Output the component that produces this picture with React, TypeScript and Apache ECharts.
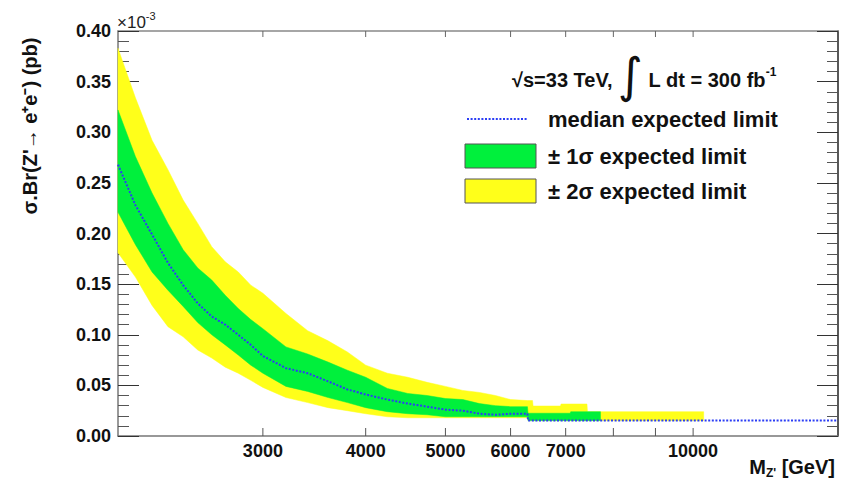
import React, { useEffect, useRef } from "react";
import * as echarts from "echarts";

// Mass points (GeV) and expected limits (x 1e-3 pb)
const massPoints = [2000, 2100, 2200, 2300, 2400, 2500, 2600, 2700, 2800, 2900, 3000, 3200, 3400, 3600, 3800, 4000, 4250, 4500, 4750, 5000, 5250, 5500, 5750, 6000, 6290];
const yellowHigh = [0.383, 0.334, 0.292, 0.263, 0.233, 0.21, 0.187, 0.172, 0.162, 0.149, 0.141, 0.121, 0.104, 0.094, 0.083, 0.07, 0.062, 0.058, 0.053, 0.049, 0.045, 0.043, 0.04, 0.036, 0.035];
const greenHigh = [0.322, 0.276, 0.24, 0.21, 0.184, 0.166, 0.154, 0.139, 0.126, 0.115, 0.106, 0.088, 0.081, 0.073, 0.065, 0.058, 0.047, 0.042, 0.04, 0.037, 0.036, 0.032, 0.03, 0.029, 0.029];
const medianLimit = [0.268, 0.228, 0.199, 0.171, 0.149, 0.131, 0.118, 0.11, 0.1, 0.09, 0.079, 0.067, 0.062, 0.054, 0.046, 0.041, 0.036, 0.032, 0.029, 0.026, 0.025, 0.022, 0.021, 0.022, 0.022];
const greenLow = [0.221, 0.189, 0.162, 0.144, 0.128, 0.112, 0.1, 0.09, 0.08, 0.07, 0.062, 0.049, 0.044, 0.038, 0.033, 0.028, 0.024, 0.022, 0.021, 0.019, 0.019, 0.019, 0.019, 0.019, 0.019];
const yellowLow = [0.181, 0.157, 0.129, 0.108, 0.098, 0.085, 0.077, 0.068, 0.062, 0.055, 0.048, 0.038, 0.033, 0.028, 0.025, 0.022, 0.019, 0.018, 0.018, 0.018, 0.018, 0.018, 0.018, 0.018, 0.018];

// High-mass tails
const medianTailMass = [6300, 15000];
const medianTail = [0.0152, 0.0152];
const greenTailMass = [6300, 7090, 7100, 7716];
const greenTailHigh = [0.0225, 0.0225, 0.024, 0.024];
const greenTailLow = [0.0152, 0.0152, 0.0152, 0.0152];
const yellowTailMass = [6300, 6380, 6390, 6900, 6910, 7430, 7440, 10300];
const yellowTailHigh = [0.035, 0.035, 0.0296, 0.0296, 0.0316, 0.0316, 0.024, 0.024];
const yellowTailLow = [0.0152, 0.0152, 0.0152, 0.0152, 0.0152, 0.0152, 0.0152, 0.0152];

// Axis ticks
const xLabelValues = [3000, 4000, 5000, 6000, 7000, 10000];
const xTickValues = [3000, 4000, 5000, 6000, 7000, 8000, 9000, 10000];

const FONT = '"Liberation Sans", Arial, Helvetica, sans-serif';
const GREEN = "#00f03c";
const YELLOW = "#ffff1a";
const BLUE = "#2b3df5";

const pairs = (xs: number[], ys: number[]) => xs.map((x, i) => [x, ys[i]]);
const bandRows = (xs: number[], lo: number[], hi: number[]) => xs.map((x, i) => [x, lo[i], hi[i]]);

function bandSeries(rows: number[][], color: string, z: number) {
  return {
    type: "custom",
    silent: true,
    z,
    data: rows,
    encode: { x: 0, y: [1, 2] },
    renderItem: (params: any, api: any) => {
      if (params.dataIndex !== 0) return null;
      const upper = rows.map((r) => api.coord([r[0], r[2]]));
      const lower = rows.map((r) => api.coord([r[0], r[1]])).reverse();
      return {
        type: "polygon",
        shape: { points: [...upper, ...lower] },
        style: { fill: color, stroke: color, lineWidth: 0.5 },
      };
    },
  };
}

export default function App() {
  const ref = useRef<HTMLDivElement>(null);

  useEffect(() => {
    if (!ref.current) return;
    const chart = echarts.init(ref.current, null, { renderer: "svg" });

    const yellowRows = bandRows([...massPoints, ...yellowTailMass], [...yellowLow, ...yellowTailLow], [...yellowHigh, ...yellowTailHigh]);
    const greenRows = bandRows([...massPoints, ...greenTailMass], [...greenLow, ...greenTailLow], [...greenHigh, ...greenTailHigh]);
    const mX = [...massPoints, ...medianTailMass];
    const mY = [...medianLimit, ...medianTail];

    const baseX = {
      type: "log" as const,
      logBase: 10,
      min: 2000,
      max: 15000,
      splitLine: { show: false },
      minorTick: { show: false },
      axisTick: { show: false },
    };
    const baseY = {
      type: "value" as const,
      min: 0,
      max: 0.4,
      interval: 0.05,
      splitLine: { show: false },
      minorSplitLine: { show: false },
    };

    const textStyleBold = { fontFamily: FONT, fontWeight: "bold" as const, fill: "#111" };

    chart.setOption({
      animation: false,
      grid: { left: 118, top: 31, width: 720, height: 405, containLabel: false },
      xAxis: [
        {
          ...baseX,
          position: "bottom",
          axisLine: { show: true, onZero: false, lineStyle: { color: "#777", width: 1.5 } },
          axisLabel: {
            show: true,
            customValues: xLabelValues,
            formatter: (v: number) => String(Math.round(v)),
            fontFamily: FONT,
            fontWeight: "bold",
            fontSize: 18,
            color: "#111",
            margin: 6,
          },
        },
        {
          ...baseX,
          position: "top",
          axisLine: { show: true, onZero: false, lineStyle: { color: "#888", width: 1.5 } },
          axisLabel: { show: false },
        },
      ],
      yAxis: [
        {
          ...baseY,
          position: "left",
          axisLine: { show: true, onZero: false, lineStyle: { color: "#777", width: 1.5 } },
          axisTick: { show: true, inside: true, length: 21, lineStyle: { color: "#333" } },
          minorTick: { show: true, splitNumber: 5, length: 11, lineStyle: { color: "#555" } },
          axisLabel: {
            show: true,
            formatter: (v: number) => v.toFixed(2),
            fontFamily: FONT,
            fontWeight: "bold",
            fontSize: 18,
            color: "#111",
            margin: 7,
          },
        },
        {
          ...baseY,
          position: "right",
          axisLine: { show: true, onZero: false, lineStyle: { color: "#222", width: 1.5 } },
          axisTick: { show: true, inside: true, length: 21, lineStyle: { color: "#333" } },
          minorTick: { show: true, splitNumber: 5, length: 11, lineStyle: { color: "#555" } },
          axisLabel: { show: false },
        },
      ],
      series: [
        bandSeries(yellowRows, YELLOW, 1),
        bandSeries(greenRows, GREEN, 2),
        {
          type: "line",
          name: "median expected limit",
          data: pairs(mX, mY),
          symbol: "none",
          silent: true,
          lineStyle: { color: BLUE, width: 2, type: [2, 1.6] },
          z: 3,
        },
        {
          type: "custom",
          silent: true,
          z: 4,
          data: xTickValues.map((v) => [v, 0]),
          encode: { x: 0, y: 1 },
          renderItem: (params: any, api: any) => {
            const v = api.value(0);
            const b = api.coord([v, 0]);
            const t = api.coord([v, 0.4]);
            return {
              type: "group",
              children: [
                { type: "line", shape: { x1: b[0], y1: b[1], x2: b[0], y2: b[1] - 8 }, style: { stroke: "#555", lineWidth: 1 } },
                { type: "line", shape: { x1: t[0], y1: t[1], x2: t[0], y2: t[1] + 6 }, style: { stroke: "#666", lineWidth: 1 } },
              ],
            };
          },
        },
      ],
      graphic: [
        {
          type: "text",
          x: 117,
          y: 22,
          style: {
            text: "{a|×10}{s|-3}",
            textVerticalAlign: "middle",
            rich: {
              a: { fontFamily: FONT, fontSize: 17, fill: "#222" },
              s: { fontFamily: FONT, fontSize: 11, fill: "#222", padding: [0, 0, 12, 0] },
            },
          },
        },
        {
          type: "text",
          x: 30,
          y: 126,
          rotation: Math.PI / 2,
          style: {
            ...textStyleBold,
            text: "σ.Br(Z'→ e⁺e⁻) (pb)",
            fontSize: 20,
            textAlign: "center",
            textVerticalAlign: "middle",
          },
        },
        {
          type: "text",
          x: 835,
          y: 467,
          style: {
            text: "{a|M}{s|Z'}{a| [GeV]}",
            textAlign: "right",
            textVerticalAlign: "middle",
            rich: {
              a: { fontFamily: FONT, fontWeight: "bold", fontSize: 20, fill: "#111" },
              s: { fontFamily: FONT, fontWeight: "bold", fontSize: 12, fill: "#111", padding: [12, 0, 0, 0] },
            },
          },
        },
        {
          type: "text",
          x: 512,
          y: 80,
          z: 100,
          style: {
            text: "{a|√s=33 TeV, }{i|∫}{a| L dt = 300 fb}{s|-1}",
            textVerticalAlign: "middle",
            rich: {
              a: { fontFamily: FONT, fontWeight: "bold", fontSize: 20, fill: "#111" },
              i: { fontFamily: "DejaVu Sans, sans-serif", fontSize: 48, fill: "#111", padding: [0, 0, 10, 0] },
              s: { fontFamily: FONT, fontWeight: "bold", fontSize: 12, fill: "#111", padding: [0, 0, 16, 0] },
            },
          },
        },
        {
          type: "line",
          z: 100,
          shape: { x1: 467, y1: 119, x2: 528, y2: 119 },
          style: { stroke: BLUE, lineWidth: 2, lineDash: [2, 1.6] },
        },
        {
          type: "rect",
          z: 100,
          shape: { x: 465, y: 144, width: 71, height: 24 },
          style: { fill: GREEN, stroke: "#555", lineWidth: 1 },
        },
        {
          type: "rect",
          z: 100,
          shape: { x: 465, y: 179, width: 71, height: 24 },
          style: { fill: YELLOW, stroke: "#555", lineWidth: 1 },
        },
        {
          type: "text",
          x: 548,
          y: 119,
          z: 100,
          style: { ...textStyleBold, text: "median expected limit", fontSize: 22, textVerticalAlign: "middle" },
        },
        {
          type: "text",
          x: 548,
          y: 156,
          z: 100,
          style: { ...textStyleBold, text: "± 1σ expected limit", fontSize: 22, textVerticalAlign: "middle" },
        },
        {
          type: "text",
          x: 548,
          y: 191,
          z: 100,
          style: { ...textStyleBold, text: "± 2σ expected limit", fontSize: 22, textVerticalAlign: "middle" },
        },
      ],
    });

    return () => chart.dispose();
  }, []);

  return (
    <div
      ref={ref}
      style={{ position: "absolute", left: 0, top: 0, width: 847, height: 482, background: "#fff" }}
    />
  );
}
